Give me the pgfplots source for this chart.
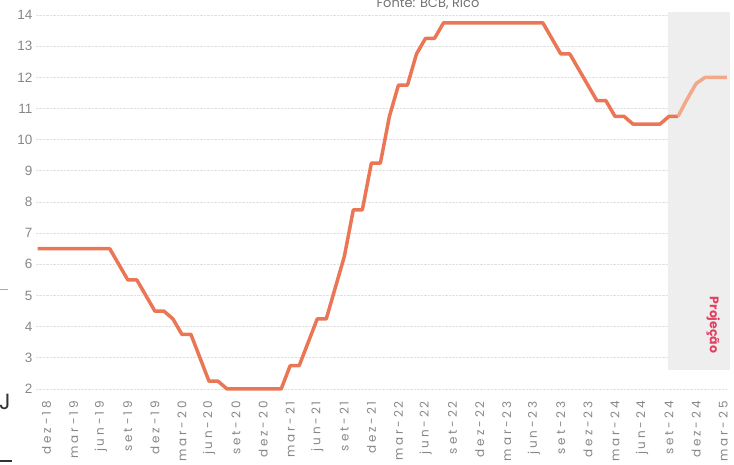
\documentclass[border=0pt]{standalone}
\usepackage{fontspec}
\setmainfont{Poppins}
\newfontfamily\numfont{Liberation Sans}
\usepackage{pgfplots}
\pgfplotsset{compat=1.18}
\definecolor{selic}{RGB}{234,118,86}
\definecolor{proj}{RGB}{243,168,138}
\definecolor{txtgray}{RGB}{135,135,135}
\definecolor{projred}{RGB}{226,64,96}
\definecolor{projshade}{RGB}{238,238,238}

\begin{document}
\begin{tikzpicture}[x=1pt,y=1pt]
\useasboundingbox (0,0) rectangle (734,465);
\begin{axis}[
	at={(35.8pt,76pt)}, anchor=south west,
	scale only axis, width=691pt, height=374pt,
	xmin=-1.2, xmax=75.4, ymin=2, ymax=14,
	axis line style={draw=none},
	major tick length=0pt,
	ytick={2,...,14},
	xtick={0,3,...,75},
	xticklabels={dez-18,mar-19,jun-19,set-19,dez-19,mar-20,jun-20,set-20,dez-20,mar-21,jun-21,set-21,dez-21,mar-22,jun-22,set-22,dez-22,mar-23,jun-23,set-23,dez-23,mar-24,jun-24,set-24,dez-24,mar-25},
	xticklabel style={rotate=90, anchor=east, inner sep=1pt, font=\fontsize{12}{12}\selectfont\addfontfeature{LetterSpace=24}, text=txtgray, xshift=-2pt},
	xticklabel shift=9pt,
	yticklabel style={font=\numfont\fontsize{13.5}{13.5}\selectfont, text=txtgray},
	/pgf/number format/assume math mode=true,
	ymajorgrids,
	grid style={densely dotted, black!12, line width=0.9pt},
	clip=false,
]
\fill[projshade] (axis cs:68.9,2.6) rectangle (axis cs:75.7,14.1);
\node[rotate=-90, text=projred, font=\fontsize{12.5}{12.5}\selectfont\bfseries] at (axis cs:73.9,4.05) {Projeção};
\addplot[color=selic, line width=3.5pt, line join=round] coordinates {
	(-1,6.5) (0,6.5) (1,6.5) (2,6.5) (3,6.5) (4,6.5) (5,6.5) (6,6.5) (7,6.5)
	(8,6.0) (9,5.5) (10,5.5) (11,5.0) (12,4.5) (13,4.5) (14,4.25) (15,3.75) (16,3.75)
	(17,3.0) (18,2.25) (19,2.25) (20,2.0) (21,2.0) (22,2.0) (23,2.0) (24,2.0) (25,2.0) (26,2.0)
	(27,2.75) (28,2.75) (29,3.5) (30,4.25) (31,4.25) (32,5.25) (33,6.25) (34,7.75) (35,7.75)
	(36,9.25) (37,9.25) (38,10.75) (39,11.75) (40,11.75) (41,12.75) (42,13.25) (43,13.25)
	(44,13.75) (45,13.75) (46,13.75) (47,13.75) (48,13.75) (49,13.75) (50,13.75) (51,13.75)
	(52,13.75) (53,13.75) (54,13.75) (55,13.75)
	(56,13.25) (57,12.75) (58,12.75) (59,12.25) (60,11.75) (61,11.25) (62,11.25) (63,10.75) (64,10.75)
	(65,10.5) (66,10.5) (67,10.5) (68,10.5) (69,10.75) (70,10.75)
};
\addplot[color=proj, line width=3.5pt, line join=round] coordinates {
	(70,10.75) (71,11.3) (72,11.8) (73,12.0) (74,12.0) (75,12.0) (75.4,12.0)
};
\end{axis}
\node[anchor=base, text=txtgray!85!black, font=\fontsize{13}{13}\selectfont] at (428,457) {Fonte: BCB, Rico};
\node[text=black!80, font=\fontsize{22}{22}\selectfont] at (5,63) {J};
\draw[cyan!60!blue!50, line width=1pt] (0,175) -- (8,175);
\draw[black!80, line width=1.2pt] (0,4) -- (12,4);
\end{tikzpicture}
\end{document}
